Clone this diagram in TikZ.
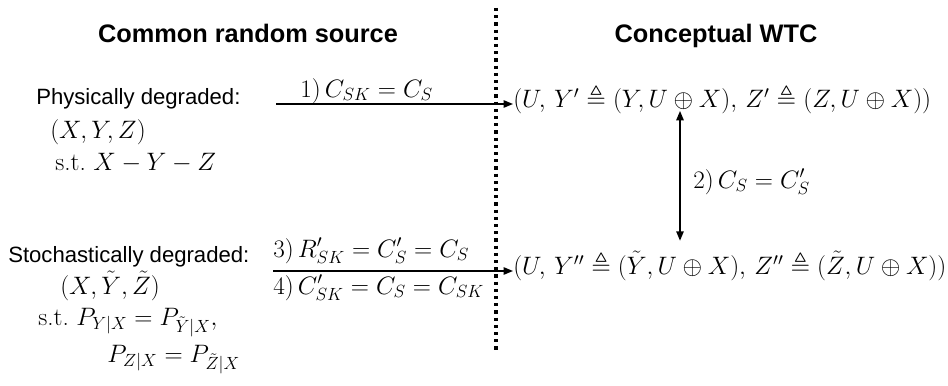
\RequirePackage{fix-cm}
\documentclass[tikz,border=0pt]{standalone}
\usepackage{amsmath,amssymb}
\usepackage{fontspec}
\setsansfont{Liberation Sans}
\usetikzlibrary{positioning,arrows.meta,calc}
\tikzset{
  ttl/.style  ={anchor=base, inner sep=0pt, font=\fontsize{19}{22}\selectfont\sffamily\bfseries},
  lbl/.style  ={anchor=base west, inner sep=0pt, font=\fontsize{16.6}{20}\selectfont\sffamily},
  mth/.style  ={anchor=base west, inner sep=0pt, font=\fontsize{18.9}{23}\selectfont},
  wtc/.style  ={anchor=west, inner sep=0pt, text height=0.75em, text depth=0.25em,
                font=\fontsize{18.9}{23}\selectfont},
  arr/.style  ={-{Triangle[length=7pt,width=5.5pt]}, line width=1.1pt},
  dbl/.style  ={{Triangle[length=7pt,width=5.5pt]}-{Triangle[length=7pt,width=5.5pt]}, line width=1.1pt},
}

\begin{document}
\begin{tikzpicture}[x=0.75pt, y=-0.75pt]
  \useasboundingbox (0,0) rectangle (948,385);

  % column titles
  \node[ttl] (src) at (248,43) {Common random source};
  \node[ttl] (wt)  at (716,43) {Conceptual WTC};

  % divider
  \draw[line width=2.4pt, dash pattern=on 2.4pt off 3pt] (496,8) -- (496,353);

  % physically degraded source
  \node[lbl] (phys) at (36,104) {Physically degraded:};
  \node[mth] (pxyz) at (50,138) {$(X,Y,Z)$};
  \node[mth] (pst)  at (55,170) {$\text{s.t.}\ X-Y-Z$};

  % stochastically degraded source
  \node[lbl] (stoc) at (8,262) {Stochastically degraded:};
  \node[mth] (sxyz) at (60,294) {$(X,\tilde{Y},\tilde{Z})$};
  \node[mth] (sst1) at (38,325) {$\text{s.t.}\ P_{Y|X}=P_{\tilde{Y}|X},$};
  \node[mth] (sst2) at (107,362) {$P_{Z|X}=P_{\tilde{Z}|X}$};

  % conceptual WTCs
  \node[wtc] (wtc1) at (513,104)
    {$(U,\,Y'\triangleq(Y,U\oplus X),\,Z'\triangleq(Z,U\oplus X))$};
  \node[wtc] (wtc2) at (513,271)
    {$(U,\,Y''\triangleq(\tilde{Y},U\oplus X),\,Z''\triangleq(\tilde{Z},U\oplus X))$};

  \coordinate (s1) at (276,104);
  \coordinate (s2) at (273,271);
  \coordinate (vx) at (680,0);

  \draw[arr] (s1) -- (wtc1.west);
  \draw[arr] (s2) -- (wtc2.west);
  \draw[dbl] (wtc1.south -| vx) -- ([yshift=17.5pt]wtc2.north -| vx);

  \node[mth] (l1) at (300,97)  {$1)\,C_{SK}=C_S$};
  \node[mth] (l2) at (693,188) {$2)\,C_S=C'_S$};
  \node[mth] (l3) at (273,257) {$3)\,R'_{SK}=C'_S=C_S$};
  \node[mth] (l4) at (273,294) {$4)\,C'_{SK}=C_S=C_{SK}$};
\end{tikzpicture}
\end{document}
